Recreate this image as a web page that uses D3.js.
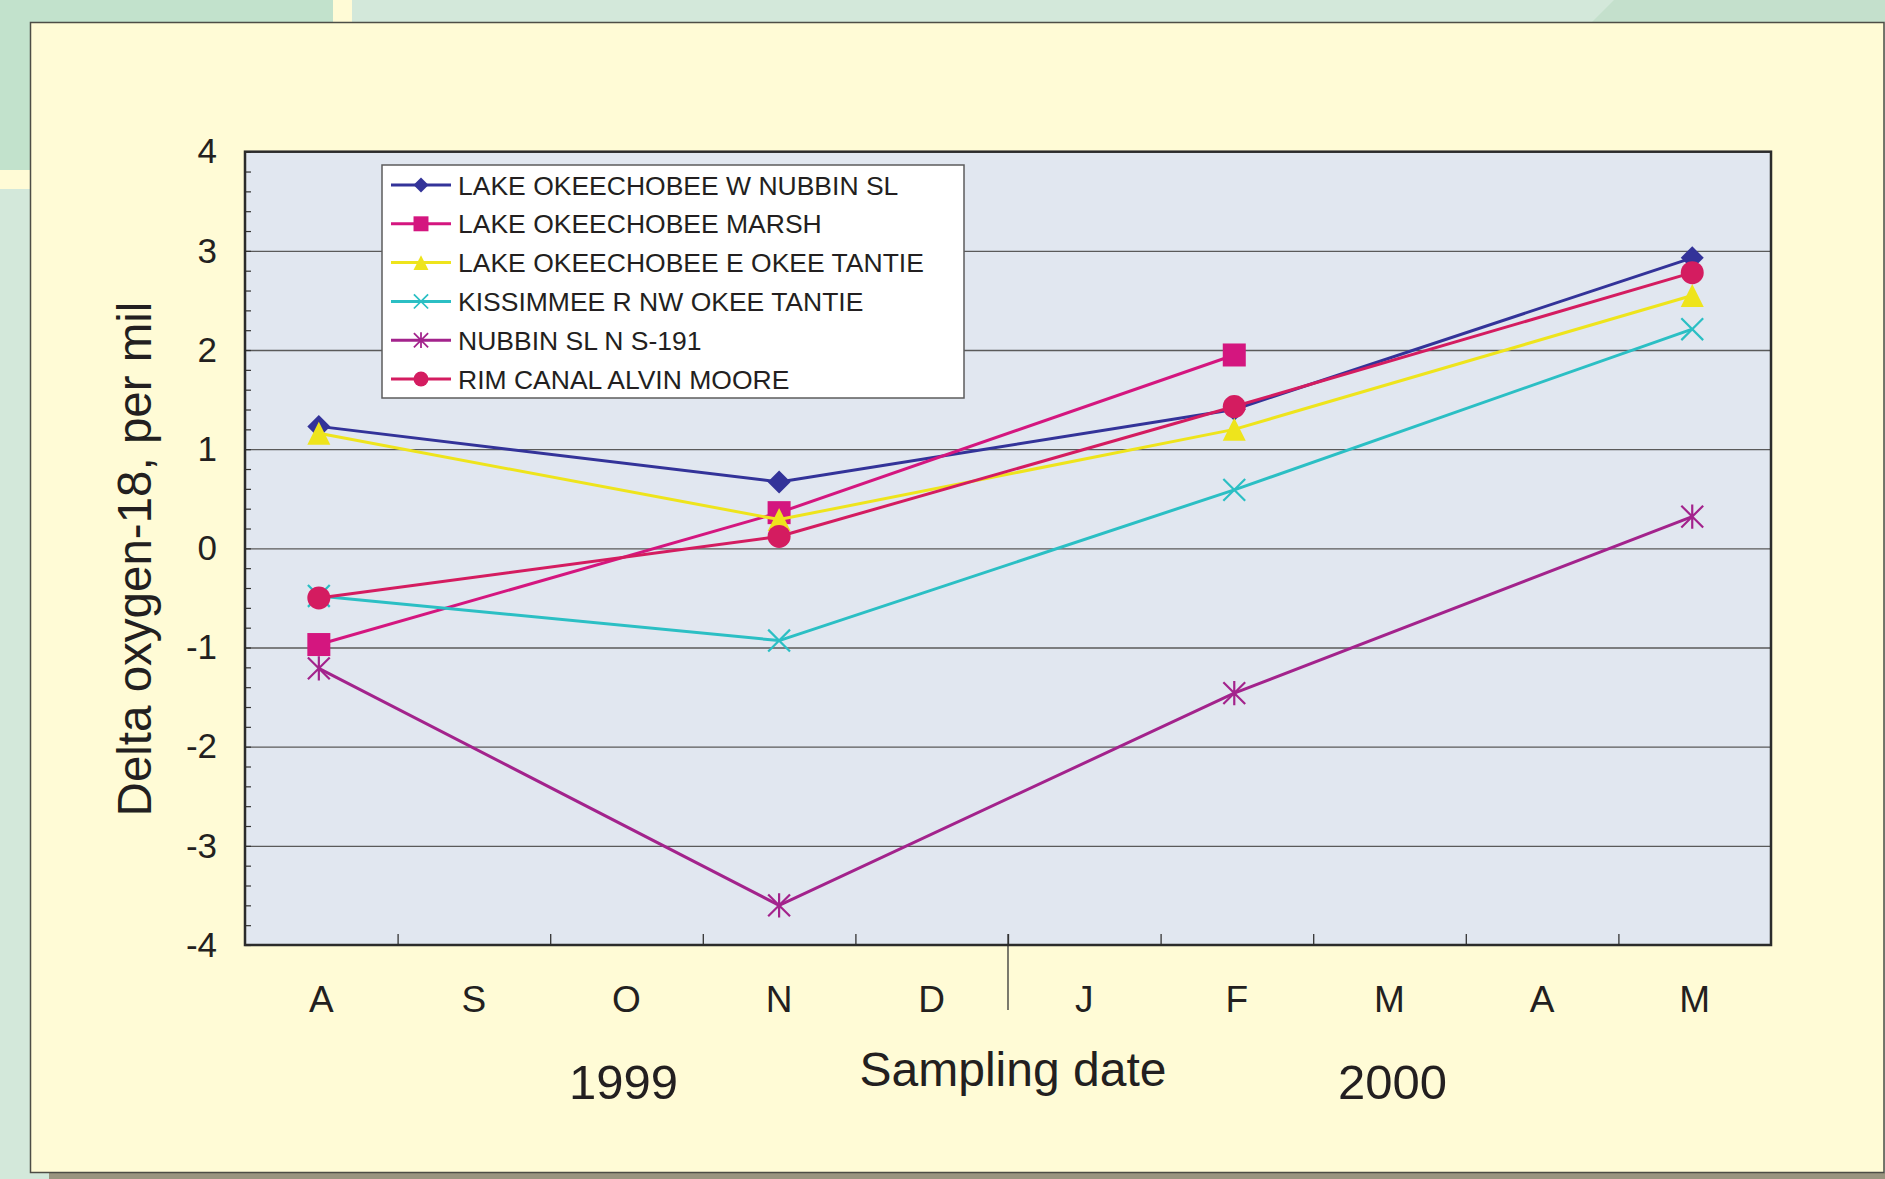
<!DOCTYPE html>
<html>
<head>
<meta charset="utf-8">
<script src="https://cdn.jsdelivr.net/npm/d3@7"></script>
<style>
  html, body { margin: 0; padding: 0; background: #d3e8da; }
  svg { display: block; font-family: "Liberation Sans", Arial, Helvetica, sans-serif; }
</style>
</head>
<body>
<svg id="chart" width="1885" height="1179"></svg>
<script>
// Month labels along the time axis (Aug 1999 – May 2000)
const monthLabels = ["A", "S", "O", "N", "D", "J", "F", "M", "A", "M"];
const axisStart = { year: 1999, month: 8 };           // axis begins 1 Aug 1999
const yearLabels = ["1999", "2000"];
const yearSpans = [[0, 5], [5, 10]];                   // months covered by each year label
const yTicks = [-4, -3, -2, -1, 0, 1, 2, 3, 4];

// Sampling dates
const sampleDates = ["1999-08-16", "1999-11-16", "2000-02-15", "2000-05-16"];

// Delta oxygen-18 (per mil) at each site
const seriesNames = [
  "LAKE OKEECHOBEE W NUBBIN SL",
  "LAKE OKEECHOBEE MARSH",
  "LAKE OKEECHOBEE E OKEE TANTIE",
  "KISSIMMEE R NW OKEE TANTIE",
  "NUBBIN SL N S-191",
  "RIM CANAL ALVIN MOORE"
];
const wNubbin    = [1.23, 0.67, 1.40, 2.93];
const marsh      = [-0.97, 0.36, 1.95, null];
const eOkee      = [1.16, 0.29, 1.20, 2.55];
const kissimmee  = [-0.48, -0.93, 0.59, 2.21];
const nubbinS191 = [-1.21, -3.60, -1.46, 0.32];
const rimCanal   = [-0.50, 0.12, 1.43, 2.78];

const seriesValues = [wNubbin, marsh, eOkee, kissimmee, nubbinS191, rimCanal];
const seriesColors = ["#333399", "#d4167f", "#eee41c", "#2bbfc4", "#a3238c", "#d41c60"];
const seriesMarkers = ["diamond", "square", "triangle", "x", "star", "circle"];

// ---- layout ----
const svg = d3.select("#chart");
const W = 1885, H = 1179;
const plot = { left: 245, right: 1771, top: 151.7, bottom: 945 };

// months elapsed since the start of the axis, with day fraction
function monthOffset(iso) {
  const [y, m, d] = iso.split("-").map(Number);
  const daysInMonth = new Date(y, m, 0).getDate();
  return (y - axisStart.year) * 12 + (m - axisStart.month) + (d - 1) / daysInMonth;
}

const x = d3.scaleLinear().domain([0, monthLabels.length]).range([plot.left, plot.right]);
const xBand = d3.scaleBand().domain(d3.range(monthLabels.length)).range([plot.left, plot.right]);
const y = d3.scaleLinear().domain([-4, 4]).range([plot.bottom, plot.top]);

// ---- background decoration ----
const bg = svg.append("g");
bg.append("rect").attr("width", W).attr("height", H).attr("fill", "#d3e8da");
bg.append("rect").attr("x", 0).attr("y", 0).attr("width", 333).attr("height", 170).attr("fill", "#c2e2cc");
bg.append("path").attr("d", "M1592,22 L1614,0 L1885,0 L1885,22 Z").attr("fill", "#c4e0cc");
bg.append("rect").attr("x", 333).attr("y", 0).attr("width", 19).attr("height", 22).attr("fill", "#fffbd6");
bg.append("rect").attr("x", 0).attr("y", 170).attr("width", 30).attr("height", 19).attr("fill", "#fffbd6");
bg.append("rect").attr("x", 49).attr("y", 1173).attr("width", W - 49).attr("height", 6).attr("fill", "#99947f");
bg.append("rect").attr("x", 30.5).attr("y", 22.5).attr("width", 1853.5).attr("height", 1150)
  .attr("fill", "#fffbd6").attr("stroke", "#4d4d46").attr("stroke-width", 1.5);

// ---- plot area ----
svg.append("rect")
  .attr("x", plot.left).attr("y", plot.top)
  .attr("width", plot.right - plot.left).attr("height", plot.bottom - plot.top)
  .attr("fill", "#e1e7f0");

// horizontal gridlines at whole units
svg.append("g")
  .attr("transform", `translate(${plot.left},0)`)
  .call(d3.axisLeft(y).tickValues([-3, -2, -1, 0, 1, 2, 3]).tickSize(-(plot.right - plot.left)).tickFormat(""))
  .call(g => g.select(".domain").remove())
  .call(g => g.selectAll("line").attr("stroke", "#5a5a5a").attr("stroke-width", 1.3));

// minor ticks on the value axis
svg.append("g")
  .attr("transform", `translate(${plot.left},0)`)
  .call(d3.axisLeft(y).tickValues(d3.range(-40, 41, 2).map(v => v / 10)).tickSize(-6).tickFormat(""))
  .call(g => g.select(".domain").remove())
  .call(g => g.selectAll("line").attr("stroke", "#333").attr("stroke-width", 1.2));

// month boundary ticks
svg.append("g")
  .attr("transform", `translate(0,${plot.bottom})`)
  .call(d3.axisBottom(x).tickValues(d3.range(1, monthLabels.length)).tickSize(-11).tickFormat(""))
  .call(g => g.select(".domain").remove())
  .call(g => g.selectAll("line").attr("stroke", "#333").attr("stroke-width", 1.3));

// year boundary marker (Dec/Jan)
svg.append("line")
  .attr("x1", x(yearSpans[1][0])).attr("x2", x(yearSpans[1][0]))
  .attr("y1", plot.bottom - 11).attr("y2", 1010)
  .attr("stroke", "#333").attr("stroke-width", 1.3);

// plot frame
svg.append("rect")
  .attr("x", plot.left).attr("y", plot.top)
  .attr("width", plot.right - plot.left).attr("height", plot.bottom - plot.top)
  .attr("fill", "none").attr("stroke", "#2b2b2b").attr("stroke-width", 2.5);

// value axis labels (plain hyphen for negatives)
svg.append("g")
  .attr("transform", `translate(${plot.left},0)`)
  .call(d3.axisLeft(y).tickValues(yTicks).tickSize(0).tickPadding(28).tickFormat(d => String(d)))
  .call(g => g.select(".domain").remove())
  .call(g => g.selectAll("text")
    .attr("font-size", 35).attr("fill", "#231f20")
    .attr("font-family", "'Liberation Sans', Arial, sans-serif"));

// month labels
svg.append("g")
  .attr("transform", `translate(0,${plot.bottom})`)
  .call(d3.axisBottom(xBand).tickSize(0).tickPadding(41).tickFormat(i => monthLabels[i]))
  .call(g => g.select(".domain").remove())
  .call(g => g.selectAll("text")
    .attr("font-size", 37).attr("fill", "#231f20")
    .attr("font-family", "'Liberation Sans', Arial, sans-serif"));

// year labels
svg.append("g").selectAll("text")
  .data(yearLabels)
  .join("text")
  .attr("x", (d, i) => x((yearSpans[i][0] + yearSpans[i][1]) / 2) + (i === 0 ? -3 : 3))
  .attr("y", 1099)
  .attr("text-anchor", "middle")
  .attr("font-size", 49)
  .attr("fill", "#231f20")
  .text(d => d);

// axis titles
svg.append("text")
  .attr("x", (plot.left + plot.right) / 2 + 5)
  .attr("y", 1086)
  .attr("text-anchor", "middle")
  .attr("font-size", 48)
  .attr("fill", "#231f20")
  .text("Sampling date");

svg.append("text")
  .attr("transform", "translate(151,559) rotate(-90)")
  .attr("text-anchor", "middle")
  .attr("font-size", 47.5)
  .attr("fill", "#231f20")
  .text("Delta oxygen-18, per mil");

// ---- markers ----
function drawMarker(g, type, color, s) {
  const r = 11.5 * s;
  if (type === "diamond") {
    g.append("path").attr("d", `M0,${-r}L${r},0L0,${r}L${-r},0Z`).attr("fill", color);
  } else if (type === "square") {
    g.append("rect").attr("x", -r).attr("y", -r).attr("width", 2 * r).attr("height", 2 * r).attr("fill", color);
  } else if (type === "triangle") {
    g.append("path").attr("d", `M0,${-r}L${r},${r}L${-r},${r}Z`).attr("fill", color);
  } else if (type === "circle") {
    g.append("circle").attr("r", r).attr("fill", color);
  } else if (type === "x" || type === "star") {
    const a = r * 0.95;
    let d = `M${-a},${-a}L${a},${a}M${-a},${a}L${a},${-a}`;
    if (type === "star") d += `M0,${-r * 1.05}L0,${r * 1.05}`;
    g.append("path").attr("d", d).attr("stroke", color).attr("stroke-width", 2.2 * Math.max(s, 0.8)).attr("fill", "none");
  }
}

const xs = sampleDates.map(monthOffset);

seriesNames.forEach((name, si) => {
  const pts = seriesValues[si]
    .map((v, i) => ({ t: xs[i], v }))
    .filter(p => p.v !== null);
  const g = svg.append("g").attr("class", "series");
  g.append("path")
    .datum(pts)
    .attr("fill", "none")
    .attr("stroke", seriesColors[si])
    .attr("stroke-width", 3)
    .attr("stroke-linejoin", "round")
    .attr("d", d3.line().x(p => x(p.t)).y(p => y(p.v)));
  pts.forEach(p => {
    const mg = g.append("g").attr("transform", `translate(${x(p.t)},${y(p.v)})`);
    drawMarker(mg, seriesMarkers[si], seriesColors[si], 1);
  });
});

// ---- legend ----
const legend = svg.append("g");
legend.append("rect")
  .attr("x", 382).attr("y", 165).attr("width", 582).attr("height", 233)
  .attr("fill", "#ffffff").attr("stroke", "#5c5c5c").attr("stroke-width", 1.5);

seriesNames.forEach((name, si) => {
  const ry = 185 + si * 38.8;
  const row = legend.append("g");
  row.append("line")
    .attr("x1", 391).attr("x2", 451).attr("y1", ry).attr("y2", ry)
    .attr("stroke", seriesColors[si]).attr("stroke-width", 3);
  const mg = row.append("g").attr("transform", `translate(421,${ry})`);
  drawMarker(mg, seriesMarkers[si], seriesColors[si], 0.65);
  row.append("text")
    .attr("x", 458).attr("y", ry).attr("dy", "0.36em")
    .attr("font-size", 26.5).attr("fill", "#231f20")
    .text(name);
});
</script>
</body>
</html>
